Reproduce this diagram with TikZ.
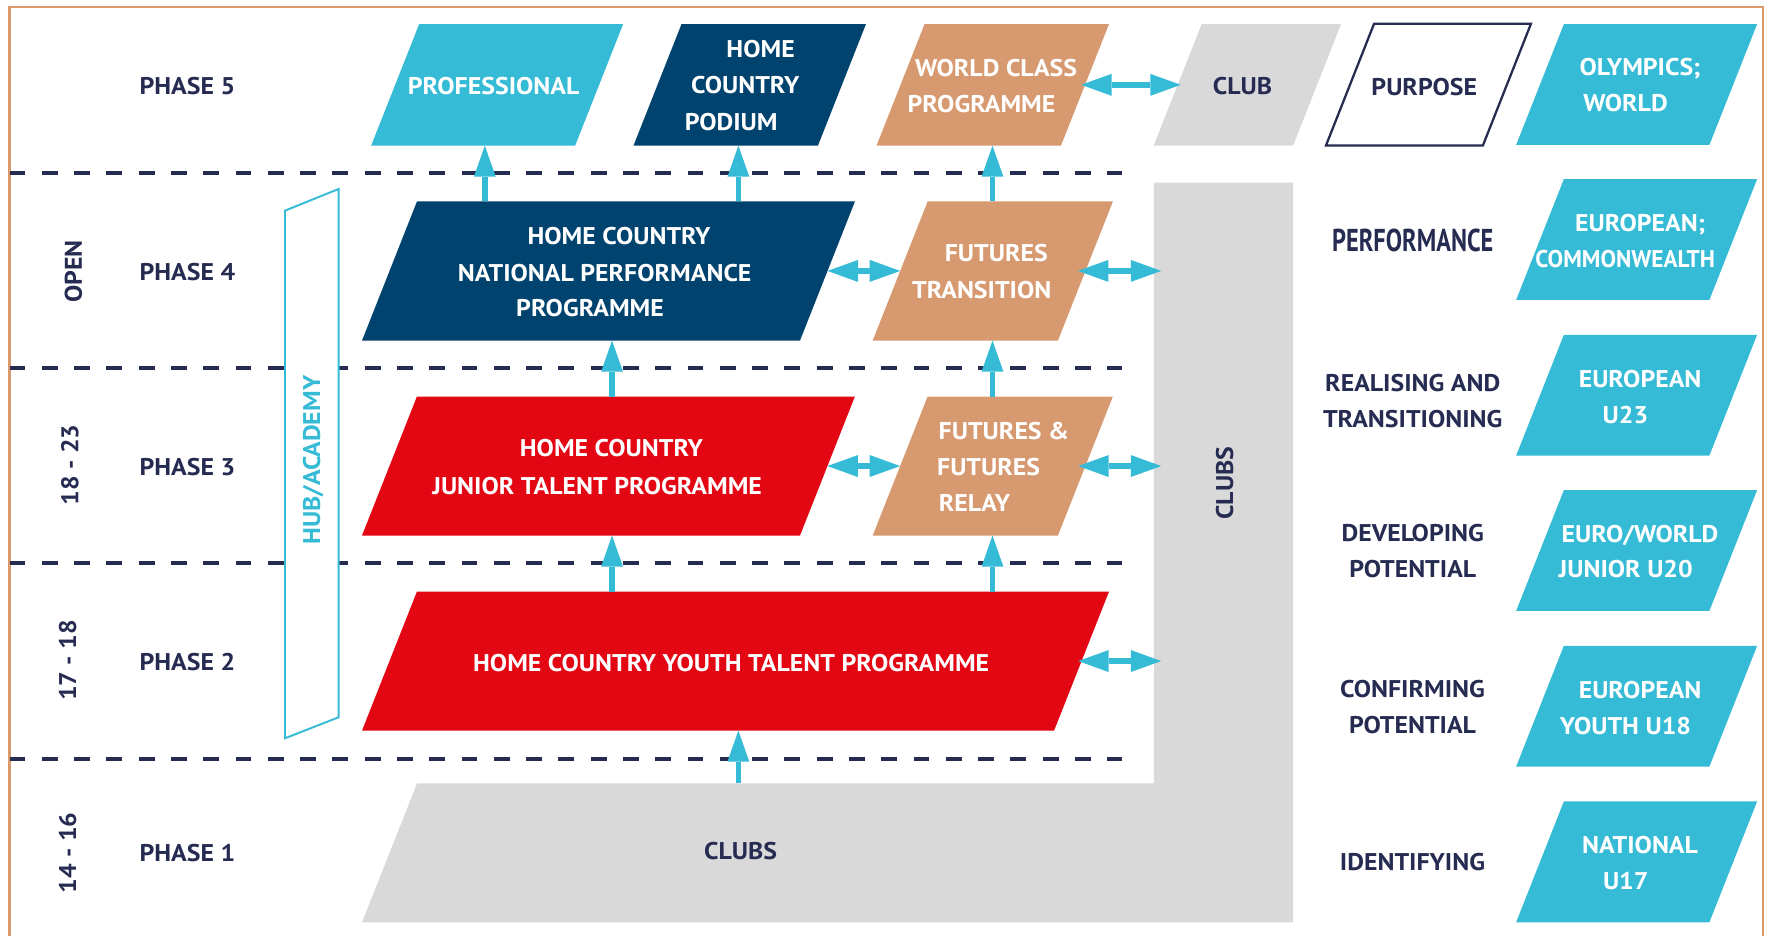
\documentclass[tikz,border=0pt]{standalone}
\usepackage{fontspec}
\usepackage{graphicx}
\setmainfont{PT Sans}[FakeStretch=1.07]
\usetikzlibrary{arrows.meta,calc}
\definecolor{cyanb}{HTML}{36BBD6}
\definecolor{navyb}{HTML}{00436F}
\definecolor{tanb}{HTML}{D79A70}
\definecolor{redb}{HTML}{E30613}
\definecolor{greyb}{HTML}{D9D9D9}
\definecolor{inkb}{HTML}{262B52}
\definecolor{frameb}{HTML}{DB9A6B}
% parallelogram box: name, path options, bottom-left x, bottom y, width, height
\newcommand\pgbx[6]{%
  \path[#2] (#3,#4) -- ++(#5,0) -- ++({0.395*#6},{-#6}) -- ++({-#5},0) -- cycle;
  \node[abox,minimum width={#5*0.5pt},minimum height={#6*0.5pt}] (#1) at ({#3+#5/2+0.395*#6/2},{#4-#6/2}) {};%
}
\begin{document}
\begin{tikzpicture}[x=0.5pt,y=-0.5pt,
  txt/.style={inner sep=0pt,outer sep=0pt,text height=7.5pt,text depth=0pt,font=\fontsize{10.7}{12}\selectfont\bfseries},
  wtxt/.style={txt,text=white},
  ntxt/.style={txt,text=inkb},
  abox/.style={rectangle,inner sep=0pt,outer sep=0pt},
  phaseline/.style={inkb,line width=1.75pt,dash pattern=on 7pt off 7.3pt},
  uparr/.style={cyanb,line width=2.5pt,-{Triangle[length=13.75pt,width=9.65pt,line width=0pt]}},
  dblarr/.style={cyanb,line width=2.5pt,{Triangle[length=13.5pt,width=9.75pt,line width=0pt]}-{Triangle[length=13.5pt,width=9.75pt,line width=0pt]}}]

\useasboundingbox (0,0) rectangle (1568,829);
\fill[white] (0,0) rectangle (1568,829);
\draw[frameb,line width=1pt] (8.5,829) -- (8.5,6) -- (1562,6) -- (1562,829);

\foreach \yy in {153.5,326,499,672} \draw[phaseline] (8.5,\yy) -- (994,\yy);

% hub / academy
\draw[cyanb,line width=0.85pt,fill=white] (252.5,186.6) -- (300,167.4) -- (300,635.4) -- (252.5,654) -- cycle;
\node[txt,text=cyanb,rotate=90] (hub) at (276,407.6) {HUB/ACADEMY};

% clubs L shape
\fill[greyb] (320.7,817) -- (369.5,693.9) -- (1022.2,693.9) -- (1022.2,161.8) -- (1145.5,161.8) -- (1145.5,817) -- cycle;
\node[abox,minimum width=61.65pt,minimum height=266pt] (clubsv) at (1083.85,427.85) {};
\node[abox,minimum width=300pt,minimum height=61.55pt] (clubsb) at (656.1,755.45) {};
\node[ntxt] (clubsbt) at (656.1,753.8) {CLUBS};
\node[ntxt,rotate=90] (clubsvt) at (1084.8,428) {CLUBS};

% boxes
\pgbx{prof}{fill=cyanb}{328.8}{129}{180.7}{107.7}
\pgbx{podium}{fill=navyb}{561.2}{129}{163.4}{107.7}
\pgbx{wc}{fill=tanb}{776.5}{129}{163.4}{107.7}
\pgbx{club}{fill=greyb}{1022}{129}{123.5}{107.7}
\pgbx{purpose}{draw=inkb,line width=1pt,fill=white}{1174.6}{129}{139}{108}
\pgbx{olym}{fill=cyanb}{1343.1}{128.4}{171.2}{107}
\pgbx{eucw}{fill=cyanb}{1343.1}{265.7}{171.2}{107}
\pgbx{eu23}{fill=cyanb}{1343.1}{403.6}{171.2}{107}
\pgbx{euwj}{fill=cyanb}{1343.1}{541.2}{171.2}{107}
\pgbx{eu18}{fill=cyanb}{1343.1}{679.1}{171.2}{107}
\pgbx{nat17}{fill=cyanb}{1343.1}{817}{171.2}{107}
\pgbx{nat}{fill=navyb}{320.7}{301.7}{388}{123.4}
\pgbx{ft}{fill=tanb}{773.1}{301.7}{164.1}{123.4}
\pgbx{jun}{fill=redb}{320.7}{474.4}{388}{123.1}
\pgbx{relay}{fill=tanb}{773.1}{474.4}{164.1}{123.1}
\pgbx{youth}{fill=redb}{320.7}{647.2}{613.1}{123.2}

% arrows
\coordinate (ax1) at (429.5,0);
\coordinate (ax2) at (654.1,0);
\coordinate (ax3) at (879.2,0);
\coordinate (ax4) at (542.2,0);
\draw[uparr] (nat.north -| ax1) -- (prof.south -| ax1);
\draw[uparr] (nat.north -| ax2) -- (podium.south -| ax2);
\draw[uparr] (ft.north -| ax3) -- (wc.south -| ax3);
\draw[uparr] (jun.north -| ax4) -- (nat.south -| ax4);
\draw[uparr] (relay.north -| ax3) -- (ft.south -| ax3);
\draw[uparr] (youth.north -| ax4) -- (jun.south -| ax4);
\draw[uparr] (youth.north -| ax3) -- (relay.south -| ax3);
\draw[uparr] (clubsb.north -| ax2) -- (youth.south -| ax2);

\draw[dblarr,shorten <=-1.7pt,shorten >=-1.35pt] (wc.east) -- (club.west);
\draw[dblarr] (nat.east) -- (ft.west);
\draw[dblarr,shorten <=-3.35pt,shorten >=-3.25pt] (ft.east) -- (ft.east -| clubsv.west);
\draw[dblarr] (jun.east) -- (relay.west);
\draw[dblarr,shorten <=-3.2pt,shorten >=-3.25pt] (relay.east) -- (relay.east -| clubsv.west);
\draw[dblarr,shorten <=-1.5pt,shorten >=-3.25pt] (youth.east) -- (youth.east -| clubsv.west);

% left labels
\node[ntxt,rotate=90] (age4) at (65,240.6) {OPEN};
\node[ntxt,rotate=90] (age3) at (62,412) {18 - 23};
\node[ntxt,rotate=90] (age2) at (60,585) {17 - 18};
\node[ntxt,rotate=90] (age1) at (60,755.7) {14 - 16};
\node[ntxt] (ph5) at (166,76) {PHASE 5};
\node[ntxt] (ph4) at (166,240.6) {PHASE 4};
\node[ntxt] (ph3) at (166,414) {PHASE 3};
\node[ntxt] (ph2) at (166,586.8) {PHASE 2};
\node[ntxt] (ph1) at (166,755.7) {PHASE 1};

% box texts
\node[wtxt] (prof-t) at (437.3,76) {PROFESSIONAL};
\node[wtxt] (podium-t1) at (673.8,43.7) {HOME};
\node[wtxt] (podium-t2) at (660.2,75.3) {COUNTRY};
\node[wtxt] (podium-t3) at (647.7,107.8) {PODIUM};
\node[wtxt] (wc-t1) at (882.4,60) {WORLD CLASS};
\node[wtxt] (wc-t2) at (869.5,91.8) {PROGRAMME};
\node[ntxt] (club-t) at (1100.7,76) {CLUB};
\node[ntxt] (purpose-t) at (1261.7,77) {PURPOSE};
\node[wtxt] (olym-t1) at (1453,59.6) {OLYMPICS;};
\node[wtxt] (olym-t2) at (1440,91.5) {WORLD};

\node[wtxt] (nat-t1) at (548.4,209) {HOME COUNTRY};
\node[wtxt] (nat-t2) at (535.7,241.5) {NATIONAL PERFORMANCE};
\node[wtxt] (nat-t3) at (522.7,273) {PROGRAMME};
\node[wtxt] (ft-t1) at (882.6,224.4) {FUTURES};
\node[wtxt] (ft-t2) at (869.7,256.9) {TRANSITION};
\node[ntxt,font=\fontsize{14}{16}\selectfont\bfseries,text height=9.9pt] (perf) at (1251.5,213) {\scalebox{0.72}[1]{PERFORMANCE}};
\node[wtxt] (eucw-t1) at (1453,197.8) {EUROPEAN;};
\node[wtxt] (eucw-t2) at (1439.7,229.7) {\scalebox{0.9}[1]{COMMONWEALTH}};

\node[wtxt] (jun-t1) at (541.6,397) {HOME COUNTRY};
\node[wtxt] (jun-t2) at (529,430.2) {JUNIOR TALENT PROGRAMME};
\node[wtxt] (relay-t1) at (889.4,381.4) {FUTURES \&};
\node[wtxt] (relay-t2) at (875.8,413.9) {FUTURES};
\node[wtxt] (relay-t3) at (863.3,445.8) {RELAY};
\node[ntxt] (real-t1) at (1251.5,339) {REALISING AND};
\node[ntxt] (real-t2) at (1251.5,371.4) {TRANSITIONING};
\node[wtxt] (eu23-t1) at (1452.9,336) {EUROPEAN};
\node[wtxt] (eu23-t2) at (1439.9,367.6) {U23};

\node[ntxt] (dev-t1) at (1251.5,472.4) {DEVELOPING};
\node[ntxt] (dev-t2) at (1251.5,504.3) {POTENTIAL};
\node[wtxt] (euwj-t1) at (1452.9,473) {EURO/WORLD};
\node[wtxt] (euwj-t2) at (1440.2,504.3) {JUNIOR U20};

\node[wtxt] (youth-t) at (647.7,587) {HOME COUNTRY YOUTH TALENT PROGRAMME};
\node[ntxt] (conf-t1) at (1251.3,610.6) {CONFIRMING};
\node[ntxt] (conf-t2) at (1251.3,642.5) {POTENTIAL};
\node[wtxt] (eu18-t1) at (1452.9,611.2) {EUROPEAN};
\node[wtxt] (eu18-t2) at (1440,642.8) {YOUTH U18};

\node[ntxt] (ident-t) at (1251.3,763.8) {IDENTIFYING};
\node[wtxt] (nat17-t1) at (1452.8,748.5) {NATIONAL};
\node[wtxt] (nat17-t2) at (1440.2,780.1) {U17};
\end{tikzpicture}
\end{document}
